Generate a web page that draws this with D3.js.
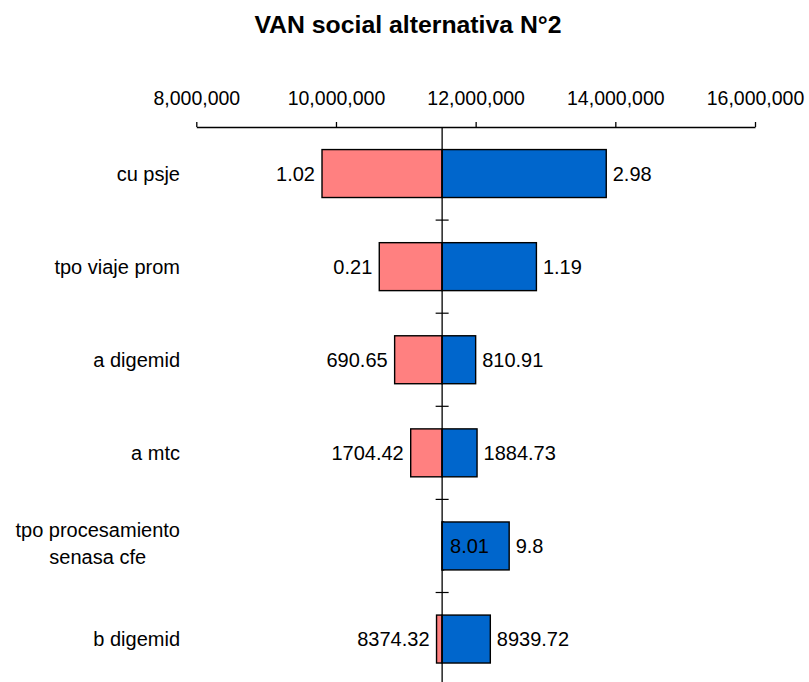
<!DOCTYPE html>
<html>
<head>
<meta charset="utf-8">
<script src="https://cdn.jsdelivr.net/npm/d3@7/dist/d3.min.js"></script>
<style>
  html, body { margin: 0; padding: 0; background: #fff; }
  svg { display: block; font-family: "Liberation Sans", Arial, sans-serif; }
</style>
</head>
<body>
<svg id="chart" width="809" height="682"></svg>
<script>
// Tornado chart: social NPV for each input at its low / high value
const title = "VAN social alternativa N°2";
const categories = ["cu psje", "tpo viaje prom", "a digemid", "a mtc", "tpo procesamiento\nsenasa cfe", "b digemid"];
const lowInputLabels = ["1.02", "0.21", "690.65", "1704.42", "8.01", "8374.32"];
const highInputLabels = ["2.98", "1.19", "810.91", "1884.73", "9.8", "8939.72"];
const lowOutput = [9800000, 10620000, 10840000, 11070000, 11540000, 11440000];
const highOutput = [13870000, 12870000, 12000000, 12020000, 12480000, 12210000];
const baseValue = 11520000;
const xTicks = [8000000, 10000000, 12000000, 14000000, 16000000];

const svg = d3.select("#chart");

const x = d3.scaleLinear().domain([8000000, 16000000]).range([196.3, 755]);
const y = d3.scaleBand().domain(categories).range([127, 685.6])
  .paddingInner(0.485).paddingOuter(0.2425);

// title
svg.append("text")
  .attr("x", 408).attr("y", 33)
  .attr("text-anchor", "middle")
  .attr("font-size", 24.8).attr("font-weight", "bold")
  .attr("fill", "#000")
  .text(title);

// value axis along the top
const axis = svg.append("g")
  .attr("transform", "translate(0,127)")
  .call(d3.axisTop(x).tickValues(xTicks).tickFormat(d3.format(","))
    .tickSizeInner(5).tickSizeOuter(0).tickPadding(17));
axis.selectAll("path.domain").attr("stroke", "#000").attr("stroke-width", 1.3);
axis.selectAll(".tick line").attr("stroke", "#000").attr("stroke-width", 1.3);
axis.selectAll(".tick text")
  .attr("font-size", 19.5).attr("fill", "#000")
  .attr("font-family", "\"Liberation Sans\", Arial, sans-serif");

// bars: low input result (red) then high input result (blue)
const rows = categories.map((c, i) => ({
  cat: c, lo: lowOutput[i], hi: highOutput[i],
  loLabel: lowInputLabels[i], hiLabel: highInputLabels[i]
}));

function barRect(sel, key, color) {
  sel.append("rect")
    .attr("x", d => x(Math.min(baseValue, d[key])))
    .attr("y", d => y(d.cat))
    .attr("width", d => Math.abs(x(d[key]) - x(baseValue)))
    .attr("height", y.bandwidth())
    .attr("fill", color)
    .attr("stroke", "#000")
    .attr("stroke-width", 1.4);
}
const g = svg.append("g");
barRect(g.selectAll(null).data(rows).enter(), "lo", "#FF8080");
barRect(g.selectAll(null).data(rows).enter(), "hi", "#0066CC");

// vertical line at the base value, with category separator ticks
svg.append("line")
  .attr("x1", x(baseValue)).attr("x2", x(baseValue))
  .attr("y1", 127).attr("y2", 686)
  .attr("stroke", "#000").attr("stroke-width", 1.3);
const sepY = categories.slice(1).map(c => y(c) - (y.step() - y.bandwidth()) / 2);
svg.selectAll(null).data(sepY).enter().append("line")
  .attr("x1", x(baseValue) - 6.5).attr("x2", x(baseValue) + 6.5)
  .attr("y1", d => d).attr("y2", d => d)
  .attr("stroke", "#000").attr("stroke-width", 1.2);

// value labels at the end of each bar
function endLabel(d, key, text) {
  const v = d[key];
  const right = v >= baseValue;
  svg.append("text")
    .attr("x", right ? x(v) + 6.5 : x(v) - 7)
    .attr("y", y(d.cat) + y.bandwidth() / 2 + 7)
    .attr("text-anchor", right ? "start" : "end")
    .attr("font-size", 20).attr("fill", "#000")
    .text(text);
}
rows.forEach(d => {
  endLabel(d, "lo", d.loLabel);
  endLabel(d, "hi", d.hiLabel);
});

// category labels, right-aligned block, lines centred within it
rows.forEach(d => {
  const lines = d.cat.split("\n");
  const cy = y(d.cat) + y.bandwidth() / 2;
  const t = svg.append("text")
    .attr("font-size", 20).attr("fill", "#000");
  if (lines.length === 1) {
    t.attr("x", 180).attr("y", cy + 7).attr("text-anchor", "end").text(lines[0]);
  } else {
    t.attr("text-anchor", "middle");
    const spans = lines.map((ln, k) => t.append("tspan")
      .attr("y", cy - 9 + k * 27).text(ln));
    const w = d3.max(spans, s => s.node().getComputedTextLength());
    spans.forEach(s => s.attr("x", 180 - w / 2));
  }
});
</script>
</body>
</html>
